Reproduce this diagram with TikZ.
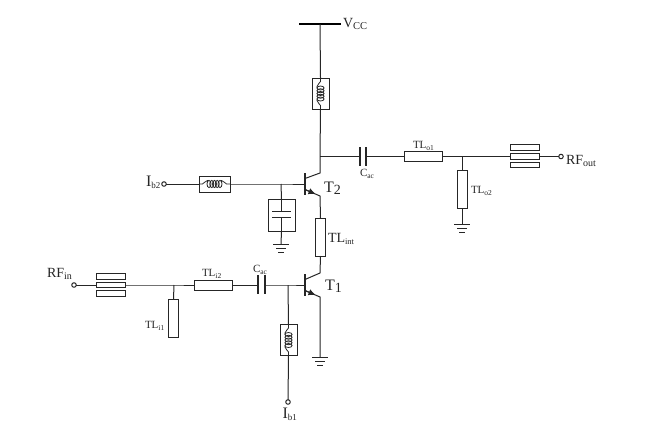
\documentclass[tikz,border=0pt]{standalone}
\usepackage{fontspec}
\setmainfont{Liberation Serif}
\usetikzlibrary{arrows.meta}
\newcommand{\subtx}[2]{\raisebox{-2.4pt}{\fontsize{#1}{#1}\selectfont #2}}
\tikzset{
  wire/.style={line width=1pt,black!85},
  hbox/.style={draw=black!85,line width=0.9pt,rectangle,inner sep=0pt,outer sep=0pt,fill=white,minimum width=#1},
  tlh/.style={hbox=38pt,minimum height=10pt},
  tlv/.style={hbox=10pt,minimum height=38pt},
  lineh/.style={hbox=29pt,minimum height=5.5pt},
  indh/.style={hbox=31pt,minimum height=16pt},
  indv/.style={hbox=17pt,minimum height=31pt},
  capbox/.style={hbox=27pt,minimum height=32pt},
  term/.style={circle,draw=black!85,line width=1pt,fill=white,minimum size=4.5pt,inner sep=0pt,outer sep=0pt},
  lab/.style={inner sep=0pt,outer sep=0pt,anchor=base west,text=black!85,font=\fontsize{14}{14}\selectfont},
  biglab/.style={lab,font=\fontsize{16}{16}\selectfont},
  slab/.style={inner sep=0pt,outer sep=0pt,anchor=base west,text=black!85,font=\fontsize{11}{11}\selectfont},
  coil/.pic={
    \draw[wire,line width=0.8pt] (-15.5,0) -- (-12,0) .. controls (-10,0) and (-10,-3.5) .. (-7,-3.5) -- (-6,-3.5);
    \draw[wire,line width=0.8pt] (15.5,0) -- (12,0) .. controls (10,0) and (10,-3.5) .. (7,-3.5) -- (6,-3.5);
    \foreach \cx in {-5.5,-2.75,0,2.75,5.5}{
      \draw[wire,line width=0.8pt] (\cx,0) ellipse [x radius=2,y radius=3.6];
    }
  },
  gnd/.pic={
    \draw[wire] (-8,0) -- (8,0);
    \draw[wire] (-5,4) -- (5,4);
    \draw[wire] (-3,8) -- (3,8);
  }
}
\begin{document}
\begin{tikzpicture}[x=1pt,y=-1pt]
\useasboundingbox[fill=white] (0,0) rectangle (647,432);

% supply rail
\coordinate (VL) at (299,24);
\coordinate (VR) at (341,24);
\coordinate (VM) at (320,24);
\draw[line width=2.6pt,black] (VL) -- (VR);
\node[lab] (VCC) at (343,27.5) {V\subtx{10.5}{CC}};

% key nodes
\node[indv] (L3) at (320.5,93.5) {};
\coordinate (OutJ) at (320,156.5);

% T2
\coordinate (T2B) at (305,184);
\coordinate (T2Bt) at (305,173);
\coordinate (T2Bb) at (305,195);
\coordinate (T2C1) at (305,178.5);
\coordinate (T2C2) at (320,173);
\coordinate (T2E1) at (305,189.5);
\coordinate (T2E2) at (320,196);
\coordinate (T2A) at (315.5,194);
\node[tlv] (TLint) at (320.5,237) {};

% T1
\coordinate (T1B) at (305,285);
\coordinate (T1Bt) at (305,274);
\coordinate (T1Bb) at (305,296);
\coordinate (T1C1) at (305,279.5);
\coordinate (T1C2) at (320,273);
\coordinate (T1E1) at (305,290.5);
\coordinate (T1E2) at (320,297);
\coordinate (T1A) at (315.5,295);
\coordinate (G1) at (320,357);

% Collector and emitter wires
\draw[wire] (VM) -- (L3.north);
\draw[wire] (L3.south) -- (OutJ) -- (T2C2) -- (T2C1);
\draw[wire,line width=1.3pt] (T2Bt) -- (T2Bb);
\draw[wire] (T2E1) -- (T2E2) -- (TLint.north);
\draw[wire,-{Latex[length=7pt,width=6.5pt]}] (T2E1) -- (T2A);
\draw[wire] (TLint.south) -- (T1C2) -- (T1C1);
\draw[wire,line width=1.3pt] (T1Bt) -- (T1Bb);
\draw[wire] (T1E1) -- (T1E2) -- (G1);
\draw[wire,-{Latex[length=7pt,width=6.5pt]}] (T1E1) -- (T1A);
\pic at (G1) {gnd};
\pic[rotate=90] at (L3) {coil};

\node[biglab] (T2L) at (324,192) {T\subtx{14}{2}};
\node[biglab] (T1L) at (325,290) {T\subtx{14}{1}};
\node[lab] (TLintL) at (328,242) {TL\subtx{8.5}{int}};

% Ib2 branch
\node[term] (Ib2) at (164,184) {};
\node[indh] (L2) at (214.5,184) {};
\coordinate (CJ) at (281,184);
\node[capbox] (CB) at (281.5,215) {};
\coordinate (P1L) at (272,211);
\coordinate (P1R) at (291,211);
\coordinate (P2L) at (272,217);
\coordinate (P2R) at (291,217);
\coordinate (G2) at (281,244);
\draw[wire] (Ib2) -- (L2.west);
\draw[wire] (L2.east) -- (CJ) -- (T2B);
\pic at (L2) {coil};
\draw[wire] (CJ) -- (CB.north);
\draw[wire] (CB.north) -- ++(0,12);
\draw[wire] (CB.south) -- ++(0,-14);
\draw[wire] (P1L) -- (P1R);
\draw[wire] (P2L) -- (P2R);
\draw[wire] (CB.south) -- (G2);
\pic at (G2) {gnd};
\node[biglab] (Ib2L) at (146,186.5) {I\subtx{9}{b2}};

% Input network
\node[term] (RFin) at (74,285) {};
\node[lineh] (Cin1) at (110.5,276.5) {};
\node[lineh] (Cin2) at (110.5,285) {};
\node[lineh] (Cin3) at (110.5,293.5) {};
\coordinate (TapI) at (174,285);
\node[tlv] (TLi1) at (173.5,318) {};
\node[tlh] (TLi2) at (213,285) {};
\coordinate (CinL) at (258,285);
\coordinate (CinR) at (265,285);
\coordinate (CinLt) at (258,275);
\coordinate (CinLb) at (258,294);
\coordinate (CinRt) at (265,275);
\coordinate (CinRb) at (265,294);
\coordinate (BJ) at (288,285);
\draw[wire] (RFin) -- (Cin2.west);
\draw[wire] (Cin2.east) -- (TapI) -- (TLi2.west);
\draw[wire] (TapI) -- (TLi1.north);
\draw[wire] (TLi2.east) -- (CinL);
\draw[wire,line width=1.2pt] (CinLt) -- (CinLb);
\draw[wire,line width=1.2pt] (CinRt) -- (CinRb);
\draw[wire] (CinR) -- (BJ) -- (T1B);
\node[lab] (RFinL) at (47,277.5) {RF\subtx{10}{in}};
\node[slab] (TLi2L) at (202,276) {TL\subtx{7.5}{i2}};
\node[slab] (TLi1L) at (145,328) {TL\subtx{7.5}{i1}};
\node[slab] (CinCL) at (253,272) {C\subtx{7.5}{ac}};

% Ib1 branch
\node[indv] (L1) at (288.5,340) {};
\node[term] (Ib1) at (288,402) {};
\draw[wire] (BJ) -- (L1.north);
\draw[wire] (L1.south) -- (Ib1);
\pic[rotate=90] at (L1) {coil};
\node[biglab] (Ib1L) at (282.5,418) {I\subtx{9}{b1}};

% Output network
\coordinate (CoL) at (360,156.5);
\coordinate (CoR) at (366,156.5);
\coordinate (CoLt) at (360,147);
\coordinate (CoLb) at (360,166);
\coordinate (CoRt) at (366,147);
\coordinate (CoRb) at (366,166);
\node[tlh] (TLo1) at (423,156.5) {};
\coordinate (TapO) at (462,156.5);
\node[tlv] (TLo2) at (462,189.5) {};
\coordinate (G3) at (462,224);
\node[lineh] (Co1) at (524.5,147.5) {};
\node[lineh] (Co2) at (524.5,156.5) {};
\node[lineh] (Co3) at (524.5,165) {};
\node[term] (RFout) at (561,156.5) {};
\draw[wire] (OutJ) -- (CoL);
\draw[wire,line width=1.2pt] (CoLt) -- (CoLb);
\draw[wire,line width=1.2pt] (CoRt) -- (CoRb);
\draw[wire] (CoR) -- (TLo1.west);
\draw[wire] (TLo1.east) -- (TapO) -- (Co2.west);
\draw[wire] (TapO) -- (TLo2.north);
\draw[wire] (TLo2.south) -- (G3);
\pic at (G3) {gnd};
\draw[wire] (Co2.east) -- (RFout);
\node[slab] (CoCL) at (360,176.5) {C\subtx{7.5}{ac}};
\node[slab] (TLo1L) at (413,148) {TL\subtx{7.5}{o1}};
\node[slab] (TLo2L) at (471,193) {TL\subtx{7.5}{o2}};
\node[lab] (RFoutL) at (566,164.5) {RF\subtx{10}{out}};
\end{tikzpicture}
\end{document}
